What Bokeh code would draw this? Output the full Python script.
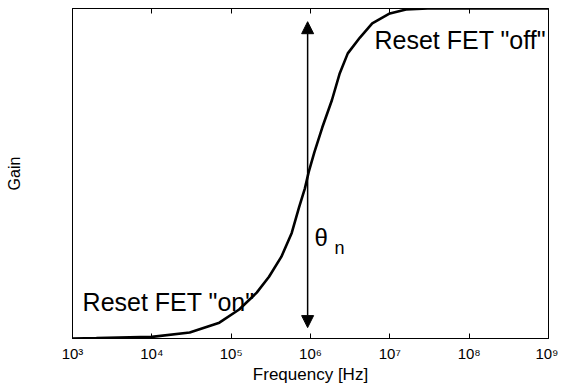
from bokeh.plotting import figure
from bokeh.models import Range1d, LogAxis, FixedTicker, Arrow, NormalHead, Label
from bokeh.embed import file_html
from bokeh.resources import INLINE

# curve
freq_hz = [1.0e3, 2.0e3, 1.0e4, 3.0e4, 7.1e4, 1.26e5, 2.1e5, 3.0e5, 4.3e5, 5.8e5,
           7.2e5, 8.5e5, 9.5e5, 1.12e6, 1.41e6, 1.86e6, 2.34e6, 2.95e6, 4.2e6,
           6.0e6, 1.0e7, 1.6e7, 3.0e7, 1.0e8, 1.0e9]
gain = [0.000, 0.001, 0.005, 0.018, 0.048, 0.088, 0.139, 0.187, 0.248, 0.320,
        0.399, 0.455, 0.505, 0.565, 0.640, 0.722, 0.804, 0.864, 0.912,
        0.955, 0.985, 0.997, 1.0, 1.0, 1.0]

tick_vals = [1e3, 1e4, 1e5, 1e6, 1e7, 1e8, 1e9]
tick_labels = ["10³", "10⁴", "10⁵", "10⁶", "10⁷", "10⁸", "10⁹"]

arrow_freq = [9.2e5]
arrow_gain = [0.033, 0.96]

label_texts = ['Reset FET "off"', 'Reset FET "on"', "θ", "n"]
label_freq = [6.4e6, 1.34e3, 1.12e6, 2.0e6]
label_gain = [0.905, 0.11, 0.306, 0.275]
label_sizes = ["25px", "25px", "24px", "18px"]

FONT = "Liberation Sans"

p = figure(frame_width=476, frame_height=330, x_axis_type="log",
           x_range=Range1d(1e3, 1e9), y_range=Range1d(0, 1),
           output_backend="svg", toolbar_location=None,
           min_border_left=72, min_border_right=10, min_border_top=8,
           min_border_bottom=50)
p.xgrid.visible = False
p.ygrid.visible = False
p.outline_line_color = "black"
p.outline_line_width = 1
p.background_fill_color = "white"
p.border_fill_color = "white"

xa = p.xaxis[0]
xa.ticker = FixedTicker(ticks=tick_vals)
xa.major_label_overrides = {t: s for t, s in zip(tick_vals, tick_labels)}
xa.major_tick_in = 5
xa.major_tick_out = 0
xa.minor_tick_line_color = None
xa.major_label_standoff = 6
xa.major_label_text_font = FONT
xa.major_label_text_font_size = "15px"
xa.major_label_text_color = "black"
xa.axis_label = "Frequency [Hz]"
xa.axis_label_text_font = FONT
xa.axis_label_text_font_style = "normal"
xa.axis_label_text_font_size = "17px"
xa.axis_label_text_color = "black"
xa.axis_label_standoff = 0
xa.axis_line_color = "black"

ya = p.yaxis[0]
ya.major_tick_line_color = None
ya.minor_tick_line_color = None
ya.major_label_text_color = None
ya.major_label_text_font_size = "1px"
ya.major_label_standoff = 0
ya.major_tick_out = 0
ya.axis_label = "Gain"
ya.axis_label_text_font = FONT
ya.axis_label_text_font_style = "normal"
ya.axis_label_text_font_size = "16px"
ya.axis_label_text_color = "black"
ya.axis_label_standoff = 46
ya.axis_line_color = "black"

top = LogAxis(ticker=FixedTicker(ticks=tick_vals), major_tick_in=5, major_tick_out=0,
              minor_tick_line_color=None, major_label_text_font_size="1px",
              major_label_text_color=None,
              major_label_standoff=0, axis_line_color="black")
p.add_layout(top, "above")

p.line(freq_hz, gain, line_width=2.6, line_color="black")

p.add_layout(Arrow(start=NormalHead(size=12, fill_color="black", line_color="black"),
                   end=NormalHead(size=12, fill_color="black", line_color="black"),
                   x_start=arrow_freq[0], y_start=arrow_gain[0],
                   x_end=arrow_freq[0], y_end=arrow_gain[1],
                   line_width=1.5, line_color="black"))

for t, fx, gy, fs in zip(label_texts, label_freq, label_gain, label_sizes):
    p.add_layout(Label(x=fx, y=gy, text=t, text_font=FONT, text_font_size=fs,
                       text_color="black", text_baseline="alphabetic"))

open("out.html", "w").write(file_html(p, INLINE))
